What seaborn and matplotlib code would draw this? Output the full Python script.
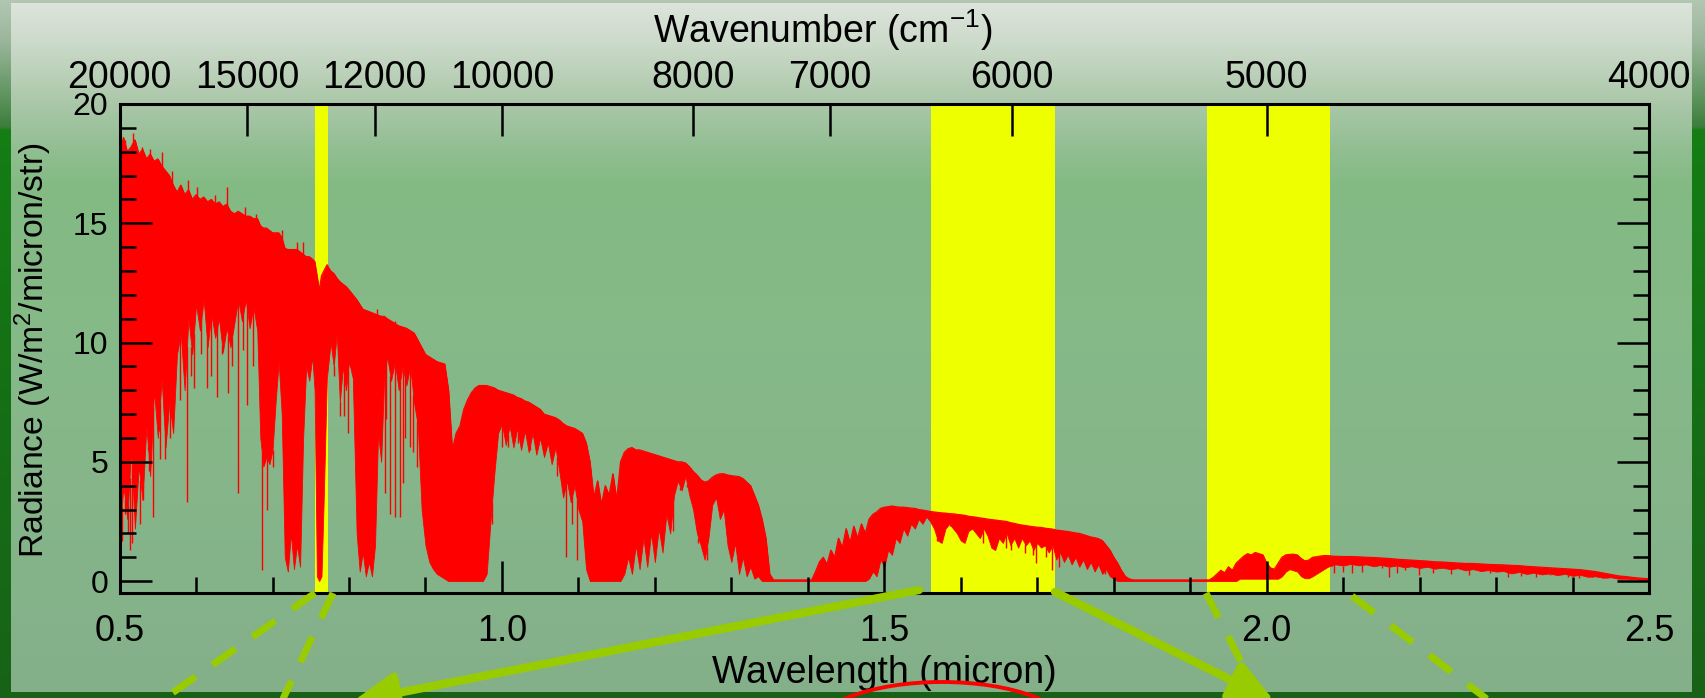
import numpy as np
import pandas as pd
import matplotlib
matplotlib.use("Agg")
import matplotlib.pyplot as plt
from matplotlib.ticker import MultipleLocator, FormatStrFormatter, FixedLocator, NullLocator
from matplotlib.patches import Ellipse
import seaborn as sns

# ---------------------------------------------------------------------------
# Radiance spectrum: upper edge and floor of the absorption-line forest,
# read band by band (wavelength in micron, radiance in W/m2/micron/str)
# ---------------------------------------------------------------------------
wl_vis = [0.500, 0.505, 0.510, 0.515, 0.520, 0.525, 0.530, 0.535, 0.540, 0.545,
          0.550, 0.555, 0.560, 0.565, 0.570, 0.575, 0.580, 0.585, 0.590, 0.595,
          0.600, 0.605, 0.610, 0.615, 0.620, 0.625, 0.630, 0.635, 0.640, 0.645,
          0.650, 0.655, 0.660, 0.665, 0.670, 0.675, 0.680,
          0.684, 0.688, 0.692, 0.696, 0.700, 0.704, 0.708, 0.712,
          0.716, 0.720, 0.724, 0.728, 0.732, 0.736,
          0.740, 0.744, 0.748, 0.752, 0.755]
top_vis = [17.9, 18.6, 18.0, 18.2, 18.5, 17.9, 18.1, 17.7, 17.9, 17.6,
           17.7, 17.4, 17.2, 17.0, 16.6, 16.3, 16.6, 16.2, 16.4, 16.0,
           16.2, 16.0, 16.1, 15.9, 16.0, 15.8, 15.9, 15.7, 15.8, 15.5,
           15.4, 15.5, 15.4, 15.3, 15.3, 15.2, 15.2,
           14.9, 14.8, 14.8, 14.7, 14.6, 14.6, 14.6, 14.4,
           13.95, 13.9, 13.9, 13.9, 13.9, 13.8,
           13.7, 13.6, 13.6, 13.5, 13.4]
low_vis = [1.8, 4.0, 2.6, 5.5, 2.2, 4.8, 3.4, 6.5, 4.4, 8.0,
           6.0, 8.5, 5.6, 7.5, 6.2, 9.5, 10.4, 8.0, 11.0, 9.5,
           11.6, 10.5, 11.8, 9.8, 11.2, 10.2, 11.0, 9.6, 10.6, 9.8,
           10.8, 11.8, 10.9, 11.8, 10.6, 11.5, 10.5,
           6.0, 4.8, 5.2, 4.9, 5.5, 7.5, 9.2, 7.0,
           1.0, 0.4, 2.0, 0.5, 1.5, 0.6,
           6.0, 9.0, 8.4, 9.4, 8.0]

wl_nir1 = [0.758, 0.761, 0.764, 0.767, 0.771,
           0.776, 0.780, 0.784, 0.788, 0.792, 0.796, 0.800,
           0.805, 0.810, 0.814, 0.818, 0.822, 0.826, 0.830, 0.834, 0.838, 0.842, 0.846, 0.850,
           0.855, 0.860, 0.865, 0.870, 0.875, 0.880, 0.885, 0.890, 0.895, 0.900,
           0.905, 0.910, 0.915, 0.920, 0.925, 0.930,
           0.935, 0.940, 0.945, 0.950, 0.955, 0.960, 0.965, 0.970, 0.975, 0.980,
           0.985, 0.990, 0.995, 1.000, 1.005, 1.010, 1.015, 1.020, 1.025, 1.030,
           1.035, 1.040, 1.045, 1.050, 1.055, 1.060, 1.065, 1.070, 1.075, 1.080,
           1.085, 1.090, 1.095, 1.100, 1.105]
top_nir1 = [12.8, 12.2, 12.8, 13.0, 13.25,
            13.0, 12.9, 12.7, 12.55, 12.45, 12.35, 12.2,
            12.0, 11.8, 11.6, 11.4, 11.35, 11.3, 11.25, 11.2, 11.15, 11.1, 11.1, 11.0,
            10.9, 10.8, 10.7, 10.65, 10.6, 10.5, 10.4, 10.1, 9.8, 9.5,
            9.4, 9.3, 9.2, 9.15, 9.1, 8.0,
            5.5, 6.2, 6.5, 7.2, 7.6, 7.9, 8.1, 8.2, 8.2, 8.2,
            8.15, 8.1, 8.0, 7.95, 7.9, 7.85, 7.8, 7.7, 7.65, 7.55,
            7.5, 7.4, 7.3, 7.2, 7.0, 6.95, 6.9, 6.85, 6.75, 6.6,
            6.5, 6.45, 6.4, 6.3, 6.2]
low_nir1 = [0.2, 0.0, 0.2, 3.5, 8.5,
            10.0, 9.0, 10.4, 7.5, 9.0, 8.0, 9.2,
            8.5, 2.0, 0.4, 1.2, 0.2, 0.8, 0.2, 1.5, 6.2, 5.0, 8.6, 9.4,
            8.4, 9.2, 8.0, 9.0, 8.2, 9.0, 7.5, 6.5, 3.0, 1.5,
            0.8, 0.5, 0.3, 0.2, 0.1, 0.0,
            0.0, 0.0, 0.0, 0.0, 0.0, 0.0, 0.0, 0.0, 0.0, 0.3,
            2.5, 4.5, 6.2, 6.6, 5.7, 6.5, 5.6, 6.4, 5.5, 6.3,
            5.4, 6.2, 5.3, 6.0, 5.2, 5.8, 4.9, 5.6, 4.6, 3.5,
            4.2, 3.3, 4.0, 3.0, 2.5]

wl_nir2 = [1.110, 1.115, 1.120, 1.125, 1.130, 1.135, 1.140, 1.145, 1.150, 1.155,
           1.160, 1.165, 1.170, 1.175, 1.180, 1.185, 1.190, 1.195, 1.200, 1.205,
           1.210, 1.215, 1.220, 1.225, 1.230, 1.235, 1.240, 1.245, 1.250, 1.255,
           1.260, 1.265, 1.270, 1.275, 1.280, 1.285, 1.290, 1.295, 1.300, 1.305,
           1.310, 1.315, 1.320, 1.325, 1.330, 1.335, 1.340, 1.345, 1.350, 1.355,
           1.405]
top_nir2 = [5.8, 5.0, 3.5, 4.2, 3.2, 4.0, 3.6, 4.5, 3.4, 5.0,
            5.4, 5.55, 5.6, 5.5, 5.5, 5.45, 5.4, 5.35, 5.3, 5.25,
            5.2, 5.15, 5.1, 5.05, 5.0, 5.0, 4.95, 4.8, 4.6, 4.45,
            4.25, 4.15, 4.2, 4.35, 4.45, 4.5, 4.5, 4.45, 4.42, 4.4,
            4.38, 4.3, 4.15, 4.0, 3.6, 3.2, 2.6, 1.8, 0.3, 0.05,
            0.05]
low_nir2 = [0.5, 0.0, 0.0, 0.0, 0.0, 0.0, 0.0, 0.0, 0.0, 0.0,
            0.3, 1.0, 0.3, 1.5, 0.5, 1.8, 0.6, 2.0, 0.8, 2.2,
            1.2, 2.8, 2.0, 3.6, 4.2, 3.8, 4.4, 3.6, 3.0, 2.0,
            1.5, 0.9, 1.8, 3.2, 3.5, 2.6, 3.0, 1.5, 0.8, 1.6,
            0.3, 1.0, 0.2, 0.6, 0.1, 0.2, 0.0, 0.0, 0.0, 0.0,
            0.0]

wl_swir1 = [1.410, 1.415, 1.420, 1.425, 1.430, 1.435, 1.440, 1.445, 1.450, 1.455,
            1.460, 1.465, 1.470, 1.475, 1.480, 1.485, 1.490, 1.495, 1.500, 1.505,
            1.510, 1.515, 1.520, 1.525, 1.530, 1.535, 1.540, 1.545, 1.550, 1.555,
            1.560, 1.565, 1.570, 1.575, 1.580, 1.585, 1.590, 1.595, 1.600, 1.605,
            1.610, 1.615, 1.620, 1.625, 1.630, 1.635, 1.640, 1.645, 1.650, 1.655,
            1.660, 1.665, 1.670, 1.675, 1.680, 1.685, 1.690, 1.695, 1.700, 1.705,
            1.710, 1.715, 1.720, 1.725, 1.730, 1.735, 1.740, 1.745, 1.750, 1.755,
            1.760, 1.765, 1.770, 1.775, 1.780, 1.785, 1.790, 1.795, 1.800, 1.805,
            1.810, 1.815, 1.820, 1.825]
top_swir1 = [0.4, 0.8, 1.0, 0.7, 1.3, 1.0, 1.8, 1.4, 2.2, 1.6,
             2.3, 1.8, 2.4, 2.0, 2.6, 2.8, 2.9, 3.05, 3.1, 3.12,
             3.15, 3.12, 3.1, 3.1, 3.08, 3.06, 3.05, 3.0, 2.98, 2.95,
             2.92, 2.9, 2.88, 2.86, 2.85, 2.83, 2.82, 2.8, 2.78, 2.76,
             2.72, 2.7, 2.68, 2.65, 2.63, 2.6, 2.58, 2.56, 2.54, 2.52,
             2.5, 2.45, 2.42, 2.38, 2.35, 2.33, 2.3, 2.28, 2.26, 2.25,
             2.22, 2.2, 2.18, 2.14, 2.12, 2.1, 2.08, 2.05, 2.02, 2.0,
             1.95, 1.9, 1.85, 1.82, 1.78, 1.7, 1.5, 1.3, 1.0, 0.75,
             0.45, 0.2, 0.1, 0.05]
low_swir1 = [0.0, 0.0, 0.0, 0.0, 0.0, 0.0, 0.0, 0.0, 0.0, 0.0,
             0.0, 0.0, 0.0, 0.0, 0.1, 0.4, 0.2, 0.9, 0.6, 1.3,
             1.1, 1.8, 1.6, 2.2, 1.9, 2.4, 2.2, 2.6, 2.4, 2.7,
             2.5, 2.2, 1.7, 1.6, 2.2, 2.4, 2.2, 2.0, 1.7, 1.6,
             2.1, 2.2, 2.0, 1.8, 2.2, 1.9, 1.4, 1.3, 1.8, 1.6,
             2.0, 1.5, 1.8, 1.4, 1.8, 1.5, 1.7, 1.3, 1.6, 1.4,
             1.5, 1.2, 1.5, 0.9, 1.2, 0.8, 1.1, 0.7, 1.0, 0.6,
             0.9, 0.5, 0.8, 0.4, 0.7, 0.3, 0.5, 0.2, 0.1, 0.0,
             0.0, 0.0, 0.0, 0.0]

wl_swir2 = [1.925, 1.930, 1.935, 1.940, 1.945, 1.950, 1.955, 1.960, 1.965, 1.970,
            1.975, 1.980, 1.985, 1.990, 1.995, 2.000, 2.005, 2.010, 2.015, 2.020,
            2.025, 2.030, 2.035, 2.040, 2.045, 2.050, 2.055, 2.060, 2.065, 2.070,
            2.075, 2.080, 2.085,
            2.09, 2.10, 2.11, 2.12, 2.13, 2.14, 2.15, 2.16, 2.17, 2.18,
            2.19, 2.20, 2.21, 2.22, 2.23, 2.24, 2.25, 2.26, 2.27, 2.28,
            2.29, 2.30, 2.31, 2.32, 2.33, 2.34, 2.35, 2.36, 2.37, 2.38,
            2.39, 2.40, 2.41, 2.42, 2.43, 2.44, 2.45, 2.46, 2.47, 2.48,
            2.49, 2.50]
top_swir2 = [0.05, 0.15, 0.3, 0.45, 0.35, 0.6, 0.45, 0.75, 0.9, 1.05,
             1.15, 1.1, 1.2, 1.15, 1.1, 0.75, 0.55, 0.5, 0.75, 1.0,
             1.1, 1.12, 1.13, 1.1, 0.95, 0.85, 0.88, 1.0, 1.02, 1.05,
             1.07, 1.07, 1.05,
             1.04, 1.03, 1.03, 1.02, 1.0, 0.99, 0.97, 0.95, 0.92, 0.9,
             0.88, 0.86, 0.84, 0.81, 0.8, 0.78, 0.76, 0.74, 0.74, 0.72,
             0.7, 0.69, 0.68, 0.66, 0.65, 0.62, 0.6, 0.58, 0.56, 0.54,
             0.52, 0.5, 0.48, 0.44, 0.4, 0.34, 0.28, 0.22, 0.19, 0.15,
             0.12, 0.1]
low_swir2 = [0.0, 0.0, 0.0, 0.0, 0.0, 0.0, 0.0, 0.0, 0.1, 0.1,
             0.1, 0.1, 0.1, 0.1, 0.1, 0.1, 0.1, 0.1, 0.1, 0.2,
             0.4, 0.5, 0.45, 0.4, 0.2, 0.12, 0.12, 0.2, 0.3, 0.4,
             0.5, 0.6, 0.65,
             0.7, 0.65, 0.72, 0.66, 0.7, 0.62, 0.68, 0.6, 0.65, 0.58,
             0.62, 0.55, 0.6, 0.52, 0.56, 0.5, 0.54, 0.45, 0.5, 0.42,
             0.46, 0.4, 0.42, 0.32, 0.38, 0.3, 0.35, 0.28, 0.32, 0.25,
             0.3, 0.22, 0.26, 0.18, 0.2, 0.14, 0.16, 0.1, 0.1, 0.08,
             0.06, 0.05]

# Individual deep absorption lines below the forest floor
line_wl = [0.503, 0.505, 0.507, 0.511, 0.513, 0.516, 0.522, 0.524, 0.527, 0.531,
           0.537, 0.538, 0.544, 0.548, 0.552, 0.553, 0.559, 0.566, 0.570, 0.572,
           0.579, 0.588, 0.594, 0.597, 0.607, 0.614, 0.620, 0.628, 0.634, 0.642,
           0.647, 0.655, 0.662, 0.666, 0.675, 0.686, 0.693, 0.700, 0.708, 0.740,
           0.742, 0.749, 0.780, 0.788, 0.793, 0.799, 0.806, 0.847, 0.849, 0.854,
           0.860, 0.867, 0.871, 0.873, 0.880, 0.884, 0.889, 0.987, 1.000, 1.008,
           1.021, 1.037, 1.058, 1.072, 1.084, 1.092, 1.098, 1.224, 1.233, 1.242,
           1.257, 1.268, 1.285, 1.292, 1.569, 1.586, 1.629, 1.659, 1.666, 1.684,
           1.694, 1.699, 1.711, 1.719, 1.729, 1.744, 1.764, 1.789, 1.799, 2.088,
           2.100, 2.111, 2.125, 2.151, 2.160, 2.171, 2.181, 2.199, 2.218, 2.241,
           2.264, 2.292, 2.315, 2.333, 2.352, 2.371, 2.394, 2.408, 2.426, 2.445]
line_min = [1.7, 3.7, 2.8, 2.0, 1.3, 1.6, 3.5, 6.2, 2.4, 3.4,
            5.5, 4.6, 2.7, 7.6, 6.3, 5.1, 5.1, 6.0, 8.3, 8.2,
            7.6, 3.3, 8.6, 8.1, 9.5, 8.1, 8.6, 7.7, 9.5, 7.9,
            9.0, 3.7, 9.7, 7.4, 9.0, 0.46, 3.0, 4.8, 9.7, 6.2,
            7.6, 8.7, 8.6, 6.9, 6.9, 6.2, 7.6, 3.7, 6.8, 2.8,
            2.7, 2.7, 4.1, 6.0, 5.6, 5.4, 4.8, 2.4, 5.6, 5.6,
            5.8, 5.5, 5.5, 4.4, 1.0, 2.4, 0.9, 2.1, 3.8, 3.95,
            1.6, 0.9, 2.6, 2.4, 1.7, 2.3, 1.6, 1.4, 1.3, 1.16,
            1.1, 0.75, 1.0, 0.46, 0.6, 0.8, 0.6, 0.3, 0.5, 0.33,
            0.4, 0.33, 0.4, 0.53, 0.19, 0.33, 0.47, 0.26, 0.33, 0.3,
            0.26, 0.33, 0.19, 0.21, 0.19, 0.26, 0.19, 0.12, 0.16, 0.12]

# Narrow emission-like spikes poking above the upper edge
spike_wl = [0.507, 0.518, 0.529, 0.540, 0.555, 0.568, 0.590, 0.601, 0.625, 0.640,
            0.664, 0.679, 0.712, 0.732, 0.740, 0.771, 0.836, 0.860, 0.880]
spike_top = [18.5, 18.8, 18.2, 18.1, 18.0, 17.2, 16.8, 16.5, 16.2, 16.5,
             15.7, 15.4, 14.7, 14.2, 14.2, 13.3, 11.4, 10.9, 10.5]

# Retrieval windows (micron)
band_start = [0.755, 1.561, 1.922]
band_end = [0.773, 1.723, 2.083]

# Axis ticks
wavenumber_ticks = [20000, 15000, 12000, 10000, 8000, 7000, 6000, 5000, 4000]

# ---------------------------------------------------------------------------
segments = [(wl_vis, top_vis, low_vis), (wl_nir1, top_nir1, low_nir1),
            (wl_nir2, top_nir2, low_nir2), (wl_swir1, top_swir1, low_swir1),
            (wl_swir2, top_swir2, low_swir2)]
for w_, t_, l_ in segments:
    assert len(w_) == len(t_) == len(l_), (len(w_), len(t_), len(l_))
assert len(line_wl) == len(line_min), (len(line_wl), len(line_min))
assert len(spike_wl) == len(spike_top)

spec = pd.DataFrame({
    "wavelength": np.concatenate([s[0] for s in segments]),
    "top": np.concatenate([s[1] for s in segments]),
    "floor": np.concatenate([s[2] for s in segments]),
})
lines = pd.DataFrame({"wavelength": line_wl, "depth": line_min})
spikes = pd.DataFrame({"wavelength": spike_wl, "peak": spike_top})

sns.set_theme(style="ticks")
plt.rcParams["font.family"] = ["Liberation Sans", "DejaVu Sans"]
plt.rcParams["mathtext.fontset"] = "custom"
plt.rcParams["mathtext.rm"] = "Liberation Sans"
plt.rcParams["mathtext.it"] = "Liberation Sans:italic"
plt.rcParams["mathtext.bf"] = "Liberation Sans:bold"

W, H = 1705, 698
fig = plt.figure(figsize=(W / 100, H / 100), dpi=100)

# ---- slide background: green frame and a pale-to-green panel ----
rows = np.arange(H)


def ramp(ys, cols):
    c = np.array(cols, float)
    return np.stack([np.interp(rows, ys, c[:, k]) for k in range(3)], axis=1)


frame = ramp([0, 40, 100, 126, 130, 300, 698],
             [(178, 198, 178), (155, 182, 155), (90, 145, 90), (60, 125, 60),
              (20, 126, 20), (20, 116, 20), (24, 98, 24)])
panel = ramp([3, 40, 100, 150, 185, 350, 692],
             [(220, 228, 219), (205, 219, 203), (172, 200, 170), (145, 190, 145),
              (131, 186, 131), (134, 185, 136), (132, 176, 138)])
img = np.repeat(frame[:, None, :], W, axis=1)
img[3:692, 11:1692, :] = np.repeat(panel[3:692, None, :], 1692 - 11, axis=1)
bg = fig.add_axes([0, 0, 1, 1], zorder=0)
bg.imshow(img.astype(np.uint8), extent=(0, W, H, 0), aspect="auto",
          interpolation="nearest")
bg.set_xlim(0, W)
bg.set_ylim(H, 0)
bg.axis("off")

# ---- main axes ----
x0, x1, y0, y1 = 119.6, 1649.0, 104.0, 593.0
ax = fig.add_axes([x0 / W, 1 - y1 / H, (x1 - x0) / W, (y1 - y0) / H], zorder=2)
ax.patch.set_alpha(0)

for lo, hi in zip(band_start, band_end):
    ax.axvspan(lo, hi, color="#eeff00", lw=0, zorder=1)

ax.fill_between(spec["wavelength"], spec["floor"], spec["top"],
                color="#ff0000", lw=0.6, zorder=2)
sns.lineplot(data=spec, x="wavelength", y="top", ax=ax, color="#ff0000",
             lw=0.8, estimator=None, sort=False, zorder=2.1)
attach = np.interp(lines["wavelength"], spec["wavelength"], spec["floor"])
ax.vlines(lines["wavelength"], lines["depth"], np.maximum(attach, lines["depth"]),
          color="#ff0000", lw=1.0, zorder=2.1)
base = np.interp(spikes["wavelength"], spec["wavelength"], spec["top"]) - 0.3
ax.vlines(spikes["wavelength"], base, spikes["peak"], color="#ff0000", lw=1.0,
          zorder=2.1)

ax.set_xlim(0.5, 2.5)
ax.set_ylim(-0.5, 20)
ax.set_xlabel("")
ax.set_ylabel("")
ax.set_axisbelow(False)

ax.xaxis.set_major_locator(MultipleLocator(0.5))
ax.xaxis.set_minor_locator(MultipleLocator(0.1))
ax.xaxis.set_major_formatter(FormatStrFormatter("%.1f"))
ax.yaxis.set_major_locator(MultipleLocator(5))
ax.yaxis.set_minor_locator(MultipleLocator(1))

ax.tick_params(which="both", direction="in", top=False, right=True,
               bottom=True, left=True, width=1.8, color="black")
ax.tick_params(which="major", length=23)
ax.tick_params(which="minor", length=11.5)
ax.tick_params(axis="x", labelsize=26, pad=15, labelcolor="black")
ax.tick_params(axis="y", labelsize=23, pad=8, labelcolor="black")
for sp in ax.spines.values():
    sp.set_linewidth(2.2)
    sp.set_color("black")
    sp.set_zorder(3)

# ---- top wavenumber axis ----
ax_top = ax.twiny()
ax_top.set_xlim(0.5, 2.5)
ax_top.patch.set_alpha(0)
ax_top.xaxis.set_major_locator(FixedLocator(1e4 / np.array(wavenumber_ticks, float)))
ax_top.xaxis.set_minor_locator(NullLocator())
ax_top.set_xticklabels([str(k) for k in wavenumber_ticks])
ax_top.tick_params(axis="x", which="major", direction="in", length=23, width=1.8,
                   labelsize=27, pad=6, color="black", labelcolor="black")
for sp in ax_top.spines.values():
    sp.set_visible(False)

# ---- axis titles ----
fig.text(823 / W, 1 - 43 / H, r"Wavenumber (cm$^{-1}$)", ha="center",
         va="baseline", fontsize=27, color="black")
fig.text(884 / W, 1 - 683 / H, "Wavelength (micron)", ha="center",
         va="baseline", fontsize=27, color="black")
fig.text(33 / W, 1 - 350 / H, r"Radiance (W/m$^2$/micron/str)", ha="center",
         va="center", rotation=90, fontsize=24.3, color="black")

# ---- callout lines and arrows below the chart ----
ov = fig.add_axes([0, 0, 1, 1], zorder=5)
ov.set_xlim(0, W)
ov.set_ylim(H, 0)
ov.axis("off")
green = "#99cc00"
dash_kw = dict(color=green, lw=5, dashes=(4, 3), solid_capstyle="butt",
               dash_capstyle="butt")
ov.plot([315, 158], [593, 703], **dash_kw)
ov.plot([333, 281], [593, 703], **dash_kw)
ov.plot([1206, 1262], [593, 703], **dash_kw)
ov.plot([1352, 1492], [596, 703], **dash_kw)
arrow_kw = dict(arrowstyle="-|>,head_length=1.3,head_width=0.6", color=green,
                lw=6, mutation_scale=20, shrinkA=0, shrinkB=0)
ov.annotate("", xy=(352, 702), xytext=(919, 590), arrowprops=arrow_kw,
            annotation_clip=False)
ov.annotate("", xy=(1275, 702), xytext=(1055, 592), arrowprops=arrow_kw,
            annotation_clip=False)
ov.add_patch(Ellipse((942, 732), 260, 100, fill=False, ec="#ff0000", lw=2.8))

fig.savefig("out.png", dpi=100)
